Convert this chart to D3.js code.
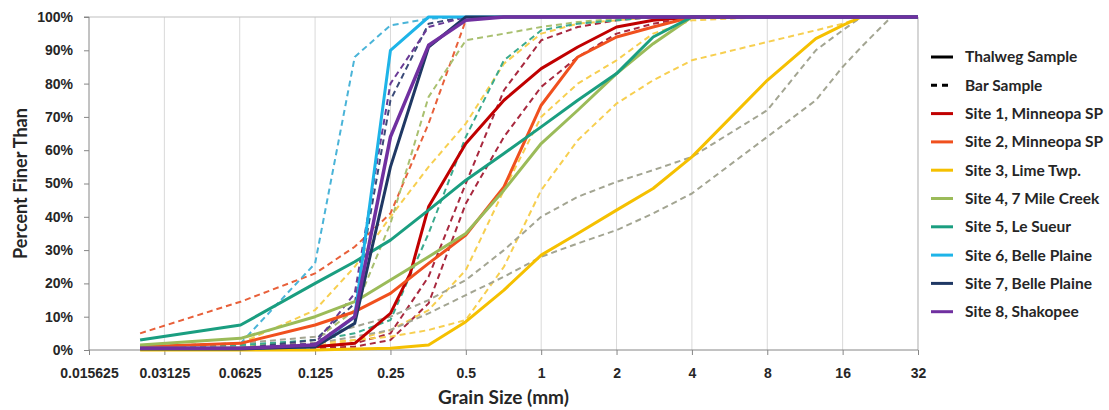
<!DOCTYPE html>
<html>
<head>
<meta charset="utf-8">
<script src="https://cdn.jsdelivr.net/npm/d3@7"></script>
<style>
  html, body { margin: 0; padding: 0; background: #ffffff; }
  svg { display: block; font-family: Lato, "Open Sans", sans-serif; }
  .tick-label { font-size: 14px; font-weight: 700; fill: #262626; }
  .axis-title { font-weight: 700; fill: #262626; }
  .legend-label { font-size: 15.5px; font-weight: 700; fill: #262626; }
</style>
</head>
<body>
<svg id="chart" width="1109" height="410"></svg>
<script>
// Sieve openings (mm) shared by all gradation curves
const sieveSizes = [0.025, 0.063, 0.125, 0.18, 0.25, 0.3, 0.355, 0.5, 0.71, 1, 1.4, 2, 2.8, 4, 8, 12.5, 16, 19, 25, 32];

// Percent finer than, thalweg samples (null = not reported)
const site1Thalweg = [0.5, 0.5, 1, 2, 11, 23, 43, 62, 75, 84.5, 91, 97, 99, 100, 100, 100, 100, 100, 100, 100];
const site2Thalweg = [1, 2, 7.5, 11.5, 17, null, 26, 34.5, 49, 73.5, 88, 94, 97, 100, 100, 100, 100, 100, 100, 100];
const site3Thalweg = [0, 0, 0, 0.3, 0.5, null, 1.5, 8.5, 18, 28.5, 35, 42, 48.5, 58, 81, 93.5, 97.5, 100, 100, 100];
const site4Thalweg = [1.5, 3.5, 10, 14.5, 21, null, 28, 35, 48, 62, 72, 83, 92, 100, 100, 100, 100, 100, 100, 100];
const site5Thalweg = [3, 7.5, 20, 26.5, 33, null, 42, 51, 59, 67, 75, 83, 94, 100, 100, 100, 100, 100, 100, 100];
const site6Thalweg = [0.5, 0.5, 1, 10, 90, null, 100, 100, 100, 100, 100, 100, 100, 100, 100, 100, 100, 100, 100, 100];
const site7Thalweg = [0.3, 0.3, 1, 8, 55, null, 91, 100, 100, 100, 100, 100, 100, 100, 100, 100, 100, 100, 100, 100];
const site8Thalweg = [0.5, 0.5, 1.5, 10, 64, null, 91.5, 99, 100, 100, 100, 100, 100, 100, 100, 100, 100, 100, 100, 100];

// Percent finer than, bar samples
const site1BarA = [0.3, 0.3, 0.5, 2, 5, null, 22, 50, 78, 93, 97, 99, 100, 100, 100, 100, 100, 100, 100, 100];
const site1BarB = [0.3, 0.3, 0.5, 1, 3, null, 14, 44, 64, 79, 88, 95, 98, 100, 100, 100, 100, 100, 100, 100];
const site2Bar  = [5, 14.5, 23, 31, 41, null, 68, 99, 100, 100, 100, 100, 100, 100, 100, 100, 100, 100, 100, 100];
const site3BarA = [1, 2, 12, 25, 40, null, 55, 68, 86, 95, 98, 99, 100, 100, 100, 100, 100, 100, 100, 100];
const site3BarB = [0.5, 1, 2, 3, 4, null, 6, 9, 25, 48, 63, 74, 81, 87, 92.5, 96, 98, 100, 100, 100];
const site3BarC = [0.3, 0.5, 1, 3, 6, null, 12, 24, 48, 70, 80, 87, 95, 99, 100, 100, 100, 100, 100, 100];
const site4BarA = [1, 2, 4, 7, 10, null, 15, 21, 30, 40, 46, 50.5, 54, 58, 72, 90, 96, 100, 100, 100];
const site4BarB = [0.5, 1, 2, 4, 6, null, 11, 16.5, 22, 28, 32, 36, 41, 47, 64, 75, 85, 91, 100, 100];
const site4BarC = [0.5, 1, 3, 12, 38, null, 76, 93, 95, 97, 98.5, 99.5, 100, 100, 100, 100, 100, 100, 100, 100];
const site5Bar  = [1, 1.5, 3, 5, 9, null, 35, 64, 87, 96, 98, 99, 100, 100, 100, 100, 100, 100, 100, 100];
const site6Bar  = [1, 2, 26, 88, 97.5, null, 99.5, 100, 100, 100, 100, 100, 100, 100, 100, 100, 100, 100, 100, 100];
const site7Bar  = [0.3, 0.5, 3, 14, 75, null, 98, 100, 100, 100, 100, 100, 100, 100, 100, 100, 100, 100, 100, 100];
const site8Bar  = [0.5, 0.5, 2, 17, 80, null, 97, 100, 100, 100, 100, 100, 100, 100, 100, 100, 100, 100, 100, 100];

// Axis ticks
const xTickValues = [0.015625, 0.03125, 0.0625, 0.125, 0.25, 0.5, 1, 2, 4, 8, 16, 32];
const xTickLabels = ["0.015625", "0.03125", "0.0625", "0.125", "0.25", "0.5", "1", "2", "4", "8", "16", "32"];
const yTickValues = [0, 10, 20, 30, 40, 50, 60, 70, 80, 90, 100];

// Site names and colours
const siteNames = ["Site 1, Minneopa SP", "Site 2, Minneopa SP", "Site 3, Lime Twp.", "Site 4, 7 Mile Creek",
                   "Site 5, Le Sueur", "Site 6, Belle Plaine", "Site 7, Belle Plaine", "Site 8, Shakopee"];
const siteColors = ["#C00000", "#F0501E", "#F5C000", "#9BBB59", "#1A9E80", "#1EB4E8", "#1F3864", "#7030A0"];

const thalwegSeries = [site1Thalweg, site2Thalweg, site3Thalweg, site4Thalweg,
                       site5Thalweg, site6Thalweg, site7Thalweg, site8Thalweg];
const barSeries = [
  { site: 0, values: site1BarA, color: "#A8283E" },
  { site: 0, values: site1BarB, color: "#A8283E" },
  { site: 1, values: site2Bar,  color: "#E8603A" },
  { site: 2, values: site3BarA, color: "#F7CF50" },
  { site: 2, values: site3BarB, color: "#F7CF50" },
  { site: 2, values: site3BarC, color: "#F7CF50" },
  { site: 3, values: site4BarA, color: "#A3A592" },
  { site: 3, values: site4BarB, color: "#A3A592" },
  { site: 3, values: site4BarC, color: "#A9C070" },
  { site: 4, values: site5Bar,  color: "#3AAA8E" },
  { site: 5, values: site6Bar,  color: "#4AB4D8" },
  { site: 6, values: site7Bar,  color: "#3A4A78" },
  { site: 7, values: site8Bar,  color: "#6A3A96" }
];

const svg = d3.select("#chart");
const plot = { left: 89, right: 918, top: 17, bottom: 350 };

const x = d3.scaleLog().base(2).domain([0.015625, 32]).range([plot.left, plot.right]);
const y = d3.scaleLinear().domain([0, 100]).range([plot.bottom, plot.top]);

// Vertical gridlines
svg.append("g")
  .selectAll("line")
  .data(xTickValues.slice(1))
  .join("line")
  .attr("x1", d => x(d)).attr("x2", d => x(d))
  .attr("y1", plot.top).attr("y2", plot.bottom)
  .attr("stroke", "#D9D9D9").attr("stroke-width", 1);

// Plot frame (top and right)
svg.append("path")
  .attr("d", `M${plot.left},${plot.top}H${plot.right}V${plot.bottom}`)
  .attr("fill", "none").attr("stroke", "#BFBFBF").attr("stroke-width", 1);

// Y axis
const yAxis = d3.axisLeft(y).tickValues(yTickValues).tickFormat(d => d + "%").tickSize(5).tickPadding(11);
const gy = svg.append("g").attr("transform", `translate(${plot.left},0)`).call(yAxis);
gy.select(".domain").attr("stroke", "#868686").attr("d", `M-5,${plot.top}H0V${plot.bottom}`);
gy.selectAll(".tick line").attr("stroke", "#868686");
gy.selectAll(".tick text").attr("class", "tick-label").attr("font-family", null).attr("font-size", null);

// X axis
const xAxis = d3.axisBottom(x).tickValues(xTickValues)
  .tickFormat((d, i) => xTickLabels[i]).tickSize(5).tickPadding(13);
const gx = svg.append("g").attr("transform", `translate(0,${plot.bottom})`).call(xAxis);
gx.select(".domain").attr("stroke", "#868686").attr("d", `M${plot.left},0H${plot.right}`);
gx.selectAll(".tick line").attr("stroke", "#868686");
gx.selectAll(".tick text").attr("class", "tick-label").attr("font-family", null).attr("font-size", null);

// Curve generator: skip sieves that were not reported
const toPoints = vals => sieveSizes.map((s, i) => [s, vals[i]]).filter(p => p[1] !== null);
const line = d3.line().x(p => x(p[0])).y(p => y(p[1]));

const curves = svg.append("g");

// Bar samples (dashed)
curves.selectAll("path.bar")
  .data(barSeries)
  .join("path")
  .attr("class", "bar")
  .attr("d", d => line(toPoints(d.values)))
  .attr("fill", "none")
  .attr("stroke", d => d.color)
  .attr("stroke-width", 2)
  .attr("stroke-dasharray", "6,4")
  .attr("stroke-linejoin", "round");

// Thalweg samples (solid)
curves.selectAll("path.thalweg")
  .data(thalwegSeries)
  .join("path")
  .attr("class", "thalweg")
  .attr("d", d => line(toPoints(d)))
  .attr("fill", "none")
  .attr("stroke", (d, i) => siteColors[i])
  .attr("stroke-width", (d, i) => i === 7 ? 3.5 : 3)
  .attr("stroke-linejoin", "round");

// Axis titles
svg.append("text")
  .attr("class", "axis-title")
  .attr("font-size", 19)
  .attr("x", (plot.left + plot.right) / 2)
  .attr("y", 404)
  .attr("text-anchor", "middle")
  .text("Grain Size (mm)");

svg.append("text")
  .attr("class", "axis-title")
  .attr("font-size", 18)
  .attr("transform", `translate(27,${(plot.top + plot.bottom) / 2}) rotate(-90)`)
  .attr("text-anchor", "middle")
  .text("Percent Finer Than");

// Legend
const legendItems = [
  { label: "Thalweg Sample", color: "#000000", dash: null },
  { label: "Bar Sample", color: "#000000", dash: "6,5" }
].concat(siteNames.map((n, i) => ({ label: n, color: siteColors[i], dash: null })));

const legend = svg.append("g").attr("transform", "translate(931,57)");
const rows = legend.selectAll("g")
  .data(legendItems)
  .join("g")
  .attr("transform", (d, i) => `translate(0,${i * 28.3})`);
rows.append("line")
  .attr("x1", 0).attr("x2", 22).attr("y1", 0).attr("y2", 0)
  .attr("stroke", d => d.color).attr("stroke-width", 3)
  .attr("stroke-dasharray", d => d.dash);
rows.append("text")
  .attr("class", "legend-label")
  .attr("x", 34).attr("y", 0).attr("dy", "0.35em")
  .text(d => d.label);
</script>
</body>
</html>
